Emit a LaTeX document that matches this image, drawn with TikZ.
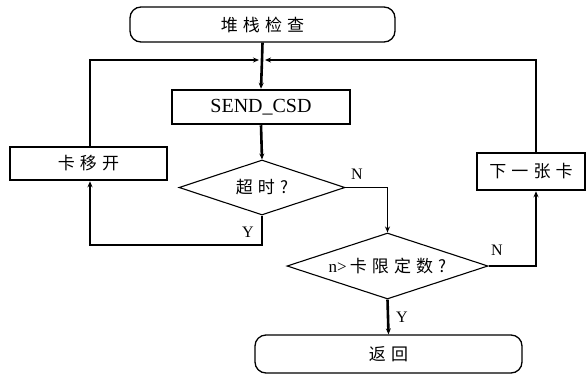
\documentclass[tikz,border=0pt]{standalone}
\usepackage{fontspec}
\setmainfont{Liberation Serif}
\newfontfamily\cjk[LetterSpace=30]{Noto Sans CJK SC}
\usetikzlibrary{shapes.geometric,arrows.meta}
\begin{document}
\begin{tikzpicture}[x=1pt,y=-1pt,
  term/.style={draw, rectangle, rounded corners=11pt, line width=1.3pt, inner sep=0pt},
  procbox/.style={draw, rectangle, line width=2.5pt, inner sep=0pt},
  decide/.style={draw, diamond, aspect=3, line width=1.1pt, inner sep=0pt},
  txt/.style={font=\fontsize{17}{20}\selectfont},
  thickline/.style={line width=2.6pt},
  thinline/.style={line width=1.4pt},
  arr/.style={-{Stealth[length=6pt,width=5pt]}},
  lbl/.style={font=\fontsize{16}{18}\selectfont, inner sep=0pt}]
\useasboundingbox (0,0) rectangle (588,378);
\node[term, minimum width=265pt, minimum height=35pt, txt] (start) at (262.5,24.5) {\cjk 堆栈检查};
\node[procbox, minimum width=178pt, minimum height=34pt, font=\fontsize{20}{22}\selectfont] (send) at (261,107) {SEND\_CSD};
\node[procbox, minimum width=157pt, minimum height=33pt, txt] (move) at (88.5,163.5) {\cjk 卡移开};
\node[decide, minimum width=166pt, minimum height=55pt, txt] (d1) at (262,187.5) {\cjk 超时?};
\node[decide, minimum width=201pt, minimum height=66pt, txt] (d2) at (387.5,266) {{\fontsize{17}{20}\selectfont n>}\kern3pt{\cjk 卡限定数?}};
\node[procbox, minimum width=108pt, minimum height=37pt, txt] (next) at (531,171.5) {\cjk 下一张卡};
\node[term, minimum width=267pt, minimum height=38pt, txt] (ret) at (388.5,354) {\cjk 返回};
\coordinate (J) at (262,60);
\coordinate (Jl) at (90,60);
\coordinate (Jr) at (536,60);
\coordinate (Ly) at (90,245);
\coordinate (Ry) at (262,245);
\coordinate (N1) at (387.5,187.5);
\coordinate (N2) at (536,266);
% main flow
\draw[thickline] (start.south) -- (J);
\draw[thickline, arr] (J) -- (send.north);
\draw[thickline, arr] (send.south) -- (d1.north);
% timeout yes loop
\draw[thickline, arr] (d1.south) -- (Ry) -- (Ly) -- (move.south -| Ly);
\draw[thickline, arr] (move.north -| Jl) -- (Jl) -- ([xshift=-3pt]J);
% timeout no
\draw[thinline, arr] (d1.east) -- (N1) -- (d2.north);
% limit no
\draw[thickline, arr] (d2.east) -- (N2) -- (next.south -| N2);
\draw[thinline, arr] (next.north -| Jr) -- (Jr) -- ([xshift=3pt]J);
% limit yes
\draw[thickline, arr] (d2.south) -- (ret.north);
% labels
\node[lbl] (n1) at (357,174) {N};
\node[lbl] (y1) at (248,232) {Y};
\node[lbl] (n2) at (497,250) {N};
\node[lbl] (y2) at (402,317) {Y};
\end{tikzpicture}
\end{document}
